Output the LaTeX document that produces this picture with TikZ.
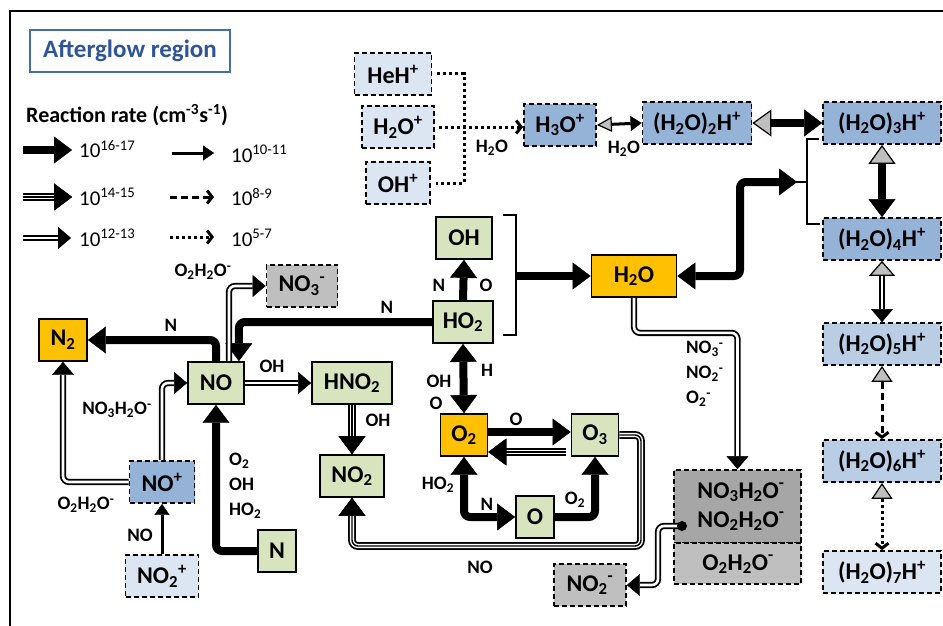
\documentclass[tikz,border=0pt]{standalone}
\usepackage{fontspec}
\setmainfont{Carlito}
\usetikzlibrary{arrows.meta}
\definecolor{cgreen}{HTML}{D7E4BD}
\definecolor{corange}{HTML}{FFC000}
\definecolor{cpale}{HTML}{DCE6F2}
\definecolor{cmed}{HTML}{95B3D7}
\definecolor{clight}{HTML}{B9CDE5}
\definecolor{cgray}{HTML}{BFBFBF}
\definecolor{cdgray}{HTML}{A6A6A6}
\definecolor{cblue}{HTML}{2F5597}
\definecolor{cbord}{HTML}{41719C}
\newcommand\ssp[2]{\textsubscript{#1}\textsuperscript{#2}}
\newcommand\tripdraw[2]{\draw[wtrip,#1] #2; \draw[wtripc,#1] #2;}
\tikzset{
  TH/.tip={Triangle[length=18pt,width=27pt,line width=0.4pt]},
  GH/.tip={Triangle[length=19pt,width=27pt,line width=1.2pt,fill=gray!50]},
  DH/.tip={Triangle[length=13pt,width=22pt,line width=0.4pt]},
  GD/.tip={Triangle[length=15pt,width=26pt,line width=1.2pt,fill=gray!50]},
  NH/.tip={Triangle[length=11pt,width=15pt,line width=0.4pt]},
  GN/.tip={Triangle[length=15pt,width=15pt,line width=1.2pt,fill=gray!50]},
  BH/.tip={Straight Barb[length=5pt,width=13pt,line width=3pt]},
  GS/.tip={Triangle[length=16pt,width=21pt,line width=1.2pt,fill=gray!50]},
  wthick/.style={line width=8pt, rounded corners=6pt},
  wtrip/.style={double=white, double distance=4.2pt, line width=1.8pt, rounded corners=6pt},
  wtripc/.style={line width=1.4pt, rounded corners=6pt},
  wdbl/.style={double=white, double distance=2.6pt, line width=1.8pt, rounded corners=6pt},
  wthin/.style={line width=3pt},
  wdash/.style={line width=3pt, dash pattern=on 7pt off 4pt},
  wdot/.style={line width=3pt, dash pattern=on 3pt off 3pt},
  bx/.style={draw, line width=1.8pt, minimum height=42pt, inner sep=0pt, font=\fontsize{24}{28}\selectfont\bfseries},
  gbox/.style={bx, fill=cgreen},
  obox/.style={bx, fill=corange},
  dbx/.style={bx, dash pattern=on 5pt off 3pt},
  lab/.style={font=\fontsize{19}{22}\selectfont\bfseries, inner sep=0pt},
  leg/.style={font=\fontsize{21}{24}\selectfont, inner sep=0pt, anchor=west},
}
\begin{document}
\begin{tikzpicture}[x=1pt,y=-1pt]
\useasboundingbox (0,0) rectangle (943,626);
% frame
\draw[line width=2.5pt] (10,626) -- (10,11) -- (943,11);
% title and legend
\node[bx, draw=cbord, line width=1.5pt, minimum width=200pt, font=\fontsize{25}{28}\selectfont\bfseries, text=cblue] (title) at (130,51) {Afterglow region};
\node[anchor=west, font=\fontsize{22}{25}\selectfont\bfseries, inner sep=0pt] (rr) at (26,115) {Reaction rate (cm\textsuperscript{-3}s\textsuperscript{-1})};
\coordinate (l1a) at (23,150); \coordinate (l1b) at (72,150);
\coordinate (l2a) at (23,197); \coordinate (l2b) at (72,197);
\coordinate (l3a) at (23,238); \coordinate (l3b) at (71,238);
\coordinate (r1a) at (172,153); \coordinate (r1b) at (214,153);
\coordinate (r2a) at (170,197); \coordinate (r2b) at (214,197);
\coordinate (r3a) at (170,237); \coordinate (r3b) at (214,237);
\draw[wthick,-TH] (l1a) -- (l1b);
\tripdraw{-TH}{(l2a) -- (l2b)}
\draw[wdbl,-DH] (l3a) -- (l3b);
\draw[wthin,-NH] (r1a) -- (r1b);
\draw[wdash,-BH] (r2a) -- (r2b);
\draw[wdot,-BH] (r3a) -- (r3b);
\node[leg] (v1) at (79,149) {10\textsuperscript{16-17}};
\node[leg] (v2) at (79,197) {10\textsuperscript{14-15}};
\node[leg] (v3) at (79,238) {10\textsuperscript{12-13}};
\node[leg] (v4) at (231,154) {10\textsuperscript{10-11}};
\node[leg] (v5) at (231,197) {10\textsuperscript{8-9}};
\node[leg] (v6) at (231,238) {10\textsuperscript{5-7}};
% top ion nodes
\node[dbx, fill=cpale, minimum width=77pt] (HeH) at (393,74) {HeH\textsuperscript{+}};
\node[dbx, fill=cpale, minimum width=72pt] (H2Op) at (398,127) {H\textsubscript{2}O\textsuperscript{+}};
\node[dbx, fill=cpale, minimum width=64pt] (OHp) at (398,183) {OH\textsuperscript{+}};
\node[dbx, fill=cmed, minimum width=72pt] (H3O) at (560,125) {H\textsubscript{3}O\textsuperscript{+}};
\node[dbx, fill=cmed, minimum width=109pt] (W2) at (697,123) {(H\textsubscript{2}O)\textsubscript{2}H\textsuperscript{+}};
\node[dbx, fill=cmed, minimum width=118pt] (W3) at (882,123) {(H\textsubscript{2}O)\textsubscript{3}H\textsuperscript{+}};
\node[dbx, fill=cmed, minimum width=118pt] (W4) at (882,239) {(H\textsubscript{2}O)\textsubscript{4}H\textsuperscript{+}};
\node[dbx, fill=clight, minimum width=118pt] (W5) at (882,344) {(H\textsubscript{2}O)\textsubscript{5}H\textsuperscript{+}};
\node[dbx, fill=clight, minimum width=118pt] (W6) at (882,461) {(H\textsubscript{2}O)\textsubscript{6}H\textsuperscript{+}};
\node[dbx, fill=cpale, minimum width=118pt] (W7) at (882,572) {(H\textsubscript{2}O)\textsubscript{7}H\textsuperscript{+}};
% neutral nodes
\node[gbox, minimum width=56pt] (OH) at (464,238) {OH};
\node[gbox, minimum width=60pt] (HO2) at (463,322) {HO\textsubscript{2}};
\node[obox, minimum width=85pt] (H2O) at (634,276) {H\textsubscript{2}O};
\node[dbx, fill=cgray, minimum width=71pt] (NO3m) at (302,286) {NO\ssp{3}{-}};
\node[gbox, minimum width=56pt] (NO) at (216,383) {NO};
\node[obox, minimum width=48pt] (N2) at (63,340) {N\textsubscript{2}};
\node[gbox, minimum width=80pt] (HNO2) at (352,383) {HNO\textsubscript{2}};
\node[gbox, minimum width=64pt] (NO2) at (352,476) {NO\textsubscript{2}};
\node[obox, minimum width=47pt] (O2) at (464,435) {O\textsubscript{2}};
\node[gbox, minimum width=47pt] (O3) at (595,435) {O\textsubscript{3}};
\node[gbox, minimum width=38pt] (O) at (535,517) {O};
\node[dbx, fill=cmed, minimum width=65pt] (NOp) at (162,482) {NO\textsuperscript{+}};
\node[dbx, fill=cpale, minimum width=73pt] (NO2p) at (162,576) {NO\ssp{2}{+}};
\node[gbox, minimum width=38pt] (N) at (277,551) {N};
\node[dbx, fill=cgray, minimum width=72pt] (NO2m) at (590,585) {NO\ssp{2}{-}};
\node[dbx, fill=cdgray, minimum width=127pt, minimum height=73pt] (clA) at (737.5,506.5) {};
\node[dbx, fill=cgray, minimum width=127pt, minimum height=41pt] (clB) at (737.5,563.5) {};
\node[bx, draw=none, minimum height=0pt, align=center, font=\fontsize{24}{29}\selectfont\bfseries] (t12) at (741,506.5) {NO\textsubscript{3}H\textsubscript{2}O\textsuperscript{-}\\NO\textsubscript{2}H\textsubscript{2}O\textsuperscript{-}};
\node[bx, draw=none, minimum height=0pt] (t3) at (738,564) {O\textsubscript{2}H\textsubscript{2}O\textsuperscript{-}};
% top connectors
\draw[wdot] ([xshift=5pt]HeH.east) -- (464,74) |- ([xshift=5pt]OHp.east);
\draw[wdot,-BH] ([xshift=4pt]H2Op.east) -- (H2Op.east -| H3O.west);
\node[lab] (lw1) at (492,148) {H\textsubscript{2}O};
\draw[wthin,GN-NH] (H3O.east) -- (W2.west);
\node[lab] (lw2) at (624,149) {H\textsubscript{2}O};
\draw[wthick,GH-TH] (W2.east) -- (W3.west);
\draw[wthick,GH-TH] (W3.south) -- (W4.north);
\draw[wdbl,GD-DH] (W4.south) -- (W5.north);
\draw[wdash,GS-BH] (W5.south) -- (W6.north);
\draw[wdot,GS-BH] (W6.south) -- (W7.north);
% right bracket
\coordinate (brR) at (807,182);
\draw[line width=2.2pt] (819,139) -- (807,139) -- (807,224) -- (820,224);
\draw[line width=2.2pt] (796,182) -- (brR);
\draw[wthick,TH-TH] (H2O.east) -- (740,276) -- (740,182) -- (797,182);
% left bracket
\coordinate (brL) at (516,276);
\draw[line width=2.2pt] (503,215) -- (516,215) -- (516,335) -- (503,335);
\draw[wthick,-TH] (brL) -- (H2O.west);
% HO2 relations
\draw[wthick,-TH] (HO2.north) -- (OH.south);
\node[lab] (lN1) at (439,285) {N};
\node[lab] (lO1) at (486,285) {O};
\draw[wthick,-TH] (HO2.west) -| ([xshift=-6pt]NO.north east);
\node[lab] (lN2) at (387,307) {N};
\draw[wthick,TH-TH] (HO2.south) -- (O2.north);
\node[lab] (lH) at (487,370) {H};
\node[lab] (lOH1) at (439,381) {OH};
\node[lab] (lO2) at (436,403) {O};
% NO relations
\draw[wthick,-TH] (NO.north) |- (N2.east);
\node[lab] (lN3) at (171,325) {N};
\draw[wdbl,-DH] ([xshift=13pt]NO.north) |- (NO3m.west);
\node[lab] (lo2h2o1) at (203,272) {O\textsubscript{2}H\textsubscript{2}O\textsuperscript{-}};
\draw[wdbl,-DH] (NO.east) -- (HNO2.west);
\node[lab] (lOH2) at (272,366) {OH};
\tripdraw{-TH}{(HNO2.south) -- (NO2.north)}
\node[lab] (lOH3) at (378,420) {OH};
\tripdraw{-TH}{(O3.east) -- (641,435) -- (641,546) -| (NO2.south)}
\node[lab] (lNO1) at (480,567) {NO};
% O2/O3/O cycle
\draw[wthick,-TH] ([yshift=3pt]O2.east) -- ([yshift=3pt]O3.west);
\node[lab] (lO3) at (516,419) {O};
\coordinate (o3r) at (566,452);
\tripdraw{-TH}{(o3r) -- (o3r -| O2.east)}
\draw[wthick,TH-TH] (O2.south) |- (O.west);
\node[lab] (lHO2) at (438,485) {HO\textsubscript{2}};
\node[lab] (lN4) at (487,504) {N};
\draw[wthick,-TH] (O.east) -| (O3.south);
\node[lab] (lO2b) at (575,500) {O\textsubscript{2}};
% H2O to cluster
\draw[wdbl,-DH] (H2O.south) -- ++(0,35) -| (clA.north);
\node[lab, anchor=north west, align=left, font=\fontsize{19}{25}\selectfont\bfseries] (ln) at (686,341) {NO\ssp{3}{-}\\NO\ssp{2}{-}\\O\ssp{2}{-}};
\coordinate (dotc) at (682,526);
\draw[wdbl,-DH] (dotc) -- (658,526) |- (NO2m.east);
\node[circle, fill, inner sep=0pt, minimum size=10pt] (dot) at (dotc) {};
% NO+ relations
\draw[wdbl,-DH] (NOp.north) |- (NO.west);
\node[lab] (lno3) at (117,410) {NO\textsubscript{3}H\textsubscript{2}O\textsuperscript{-}};
\draw[wdbl,-DH] (NOp.west) -| (N2.south);
\node[lab] (lo2h2o2) at (86,505) {O\textsubscript{2}H\textsubscript{2}O\textsuperscript{-}};
\draw[wthin,-NH] (NO2p.north) -- (NOp.south);
\node[lab] (lNO2) at (140,535) {NO};
\draw[wthick,-TH] (N.west) -| (NO.south);
\node[lab, anchor=north west, align=left, font=\fontsize{19}{25}\selectfont\bfseries] (la) at (229,453) {O\textsubscript{2}\\OH\\HO\textsubscript{2}};
\end{tikzpicture}
\end{document}
